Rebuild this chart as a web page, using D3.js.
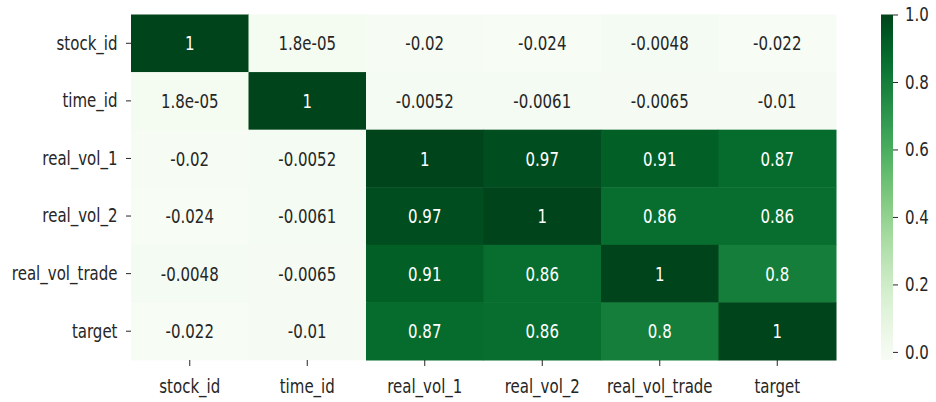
<!DOCTYPE html>
<html>
<head>
<meta charset="utf-8">
<script src="https://cdn.jsdelivr.net/npm/d3@7"></script>
<style>
  body { margin: 0; background: #fff; }
  svg text { font-family: "DejaVu Sans", sans-serif; }
</style>
</head>
<body>
<div id="heatmap"></div>
<script>
// Correlation matrix data
const labels = ["stock_id", "time_id", "real_vol_1", "real_vol_2", "real_vol_trade", "target"];
const rowStockId = [1, 1.8e-05, -0.02, -0.024, -0.0048, -0.022];
const rowTimeId = [1.8e-05, 1, -0.0052, -0.0061, -0.0065, -0.01];
const rowRealVol1 = [-0.02, -0.0052, 1, 0.97, 0.91, 0.87];
const rowRealVol2 = [-0.024, -0.0061, 0.97, 1, 0.86, 0.86];
const rowRealVolTrade = [-0.0048, -0.0065, 0.91, 0.86, 1, 0.8];
const rowTarget = [-0.022, -0.01, 0.87, 0.86, 0.8, 1];
const colorbarTicks = [0, 0.2, 0.4, 0.6, 0.8, 1.0];

const matrix = [rowStockId, rowTimeId, rowRealVol1, rowRealVol2, rowRealVolTrade, rowTarget];

const width = 936;
const height = 402;
const margin = { top: 14.5, right: 100, bottom: 42, left: 131 };
const innerWidth = 836 - margin.left;
const innerHeight = 360 - margin.top;
const fontSize = "20px";
const squeeze = 0.75; // the original figure is squeezed horizontally

// python-like ".2g" format, as seaborn annotations use
const fmtG = v => {
  if (v === 0) return "0";
  const exp = Math.floor(Math.log10(Math.abs(v)));
  if (exp < -4 || exp >= 2) {
    return v.toExponential(1).replace(/\.?0+e/, "e").replace(/e([+-])(\d)$/, "e$10$2");
  }
  let s = v.toFixed(Math.max(0, 1 - exp));
  if (s.includes(".")) s = s.replace(/0+$/, "").replace(/\.$/, "");
  return s;
};

// squeeze text horizontally like the reference
const squish = sel => sel.each(function () {
  const len = this.getComputedTextLength();
  d3.select(this)
    .attr("textLength", len * squeeze)
    .attr("lengthAdjust", "spacingAndGlyphs");
});

const cells = [];
matrix.forEach((row, i) => row.forEach((v, j) => cells.push({ row: labels[i], col: labels[j], value: v })));

const vmin = d3.min(cells, d => d.value);
const vmax = d3.max(cells, d => d.value);
const colorScale = d3.scaleSequential(d3.interpolateGreens).domain([vmin, vmax]);

const luminance = c => {
  const rgb = d3.rgb(c);
  const lin = x => { x /= 255; return x <= 0.03928 ? x / 12.92 : Math.pow((x + 0.055) / 1.055, 2.4); };
  return 0.2126 * lin(rgb.r) + 0.7152 * lin(rgb.g) + 0.0722 * lin(rgb.b);
};

const xScale = d3.scaleBand().domain(labels).range([0, innerWidth]);
const yScale = d3.scaleBand().domain(labels).range([0, innerHeight]);

const svg = d3.select("#heatmap")
  .append("svg")
    .attr("width", width)
    .attr("height", height);

const innerChart = svg
  .append("g")
    .attr("transform", `translate(${margin.left}, ${margin.top})`);

// Cells
innerChart
  .append("g")
    .attr("class", "cells")
  .selectAll("rect")
    .data(cells)
    .join("rect")
    .attr("x", d => xScale(d.col))
    .attr("y", d => yScale(d.row))
    .attr("width", xScale.bandwidth() + 0.5)
    .attr("height", yScale.bandwidth() + 0.5)
    .attr("fill", d => colorScale(d.value));

// Annotations
innerChart
  .append("g")
    .attr("class", "annotations")
  .selectAll("text")
    .data(cells)
    .join("text")
    .attr("x", d => xScale(d.col) + xScale.bandwidth() / 2)
    .attr("y", d => yScale(d.row) + yScale.bandwidth() / 2)
    .attr("dy", "0.36em")
    .attr("text-anchor", "middle")
    .style("font-size", fontSize)
    .attr("fill", d => luminance(colorScale(d.value)) > 0.408 ? "#262626" : "#ffffff")
    .text(d => fmtG(d.value))
    .call(squish);

// Axes
const leftAxis = d3.axisLeft(yScale).tickSize(5).tickPadding(8.5).tickSizeOuter(0);
innerChart
  .append("g")
    .attr("class", "y-axis")
    .call(leftAxis)
    .call(g => g.select(".domain").remove());

const bottomAxis = d3.axisBottom(xScale).tickSize(6).tickPadding(13).tickSizeOuter(0);
innerChart
  .append("g")
    .attr("class", "x-axis")
    .attr("transform", `translate(0, ${innerHeight})`)
    .call(bottomAxis)
    .call(g => g.select(".domain").remove());

svg.selectAll(".y-axis text, .x-axis text")
  .style("font-size", fontSize)
  .attr("fill", "#262626")
  .call(squish);
svg.selectAll(".tick line").attr("stroke", "#262626");

// Colorbar
const cbX = 881;
const cbWidth = 12;
const cbScale = d3.scaleLinear().domain([vmin, vmax]).range([360, margin.top]);

const defs = svg.append("defs");
const gradient = defs.append("linearGradient")
    .attr("id", "cb-gradient")
    .attr("x1", 0).attr("y1", 1).attr("x2", 0).attr("y2", 0);
d3.range(0, 1.0001, 0.05).forEach(t => {
  gradient.append("stop")
    .attr("offset", t)
    .attr("stop-color", d3.interpolateGreens(t));
});

const colorbar = svg.append("g").attr("class", "colorbar");
colorbar.append("rect")
  .attr("x", cbX)
  .attr("y", margin.top)
  .attr("width", cbWidth)
  .attr("height", 360 - margin.top)
  .attr("fill", "url(#cb-gradient)");

const cbAxis = d3.axisRight(cbScale)
  .tickValues(colorbarTicks)
  .tickFormat(d3.format(".1f"))
  .tickSize(5)
  .tickPadding(7);
colorbar.append("g")
    .attr("class", "cb-axis")
    .attr("transform", `translate(${cbX + cbWidth}, 0)`)
    .call(cbAxis)
    .call(g => g.select(".domain").remove());
colorbar.selectAll(".cb-axis text")
  .style("font-size", fontSize)
  .attr("fill", "#262626")
  .call(squish);
colorbar.selectAll(".cb-axis line").attr("stroke", "#262626");
</script>
</body>
</html>
